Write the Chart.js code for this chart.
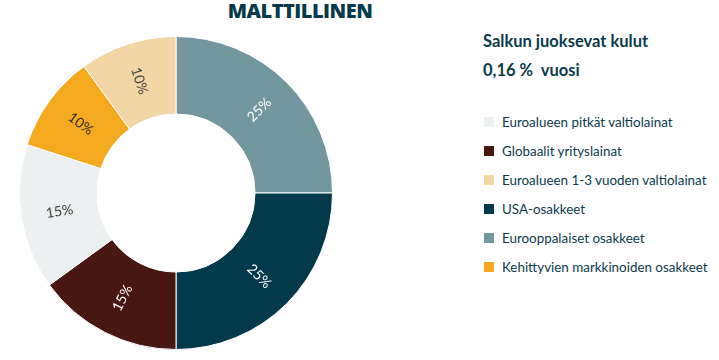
<!DOCTYPE html>
<html>
<head>
<meta charset="utf-8">
<script src="https://cdn.jsdelivr.net/npm/chart.js@4"></script>
<style>
  html, body { margin: 0; padding: 0; background: #fff; }
  body { width: 719px; height: 360px; position: relative; overflow: hidden; font-family: Lato, "Open Sans", sans-serif; color: #0b3a4b; }
  #title { position: absolute; left: 176px; top: -3px; width: 248px; text-align: center; font-family: "Open Sans", sans-serif; font-weight: 800; font-size: 20px; letter-spacing: -0.5px; color: #063a4b; }
  #chart-wrap { position: absolute; left: 19px; top: 36px; width: 314px; height: 314px; }
  #costs { position: absolute; left: 483px; top: 27px; font-weight: 700; font-size: 16.5px; line-height: 29px; }
  #legend { position: absolute; left: 484px; top: 107px; font-size: 13.4px; }
  .legend-item { height: 29px; display: flex; align-items: center; }
  .legend-box { width: 10px; height: 10px; margin-right: 8px; }
</style>
</head>
<body>
<div id="title">MALTTILLINEN</div>
<div id="chart-wrap"><canvas id="allocationChart"></canvas></div>
<div id="costs">
  <div>Salkun juoksevat kulut</div>
  <div>0,16 %&nbsp; vuosi</div>
</div>
<div id="legend"></div>

<script>
// Data (clockwise from 12 o'clock)
const categories = [
    'Eurooppalaiset osakkeet',
    'USA-osakkeet',
    'Globaalit yrityslainat',
    'Euroalueen pitkät valtiolainat',
    'Kehittyvien markkinoiden osakkeet',
    'Euroalueen 1-3 vuoden valtiolainat'
];
const shares = [25, 25, 15, 15, 10, 10];
const colors = ['#73979f', '#023a4c', '#481712', '#ecf0f1', '#f4a91e', '#f3d6a5'];
const labelColors = ['#ffffff', '#ffffff', '#ffffff', '#404040', '#303030', '#404040'];

// Legend order as shown on the right
const legendOrder = [
    'Euroalueen pitkät valtiolainat',
    'Globaalit yrityslainat',
    'Euroalueen 1-3 vuoden valtiolainat',
    'USA-osakkeet',
    'Eurooppalaiset osakkeet',
    'Kehittyvien markkinoiden osakkeet'
];

// Build legend
const legendEl = document.getElementById('legend');
let html = '';
legendOrder.forEach(name => {
    const i = categories.indexOf(name);
    html += `<div class="legend-item"><span class="legend-box" style="background:${colors[i]}"></span>${name}</div>`;
});
legendEl.innerHTML = html;

// Percent labels rotated along the radius
const sliceLabels = {
    id: 'sliceLabels',
    afterDatasetsDraw(chart) {
        const ctx = chart.ctx;
        const meta = chart.getDatasetMeta(0);
        ctx.save();
        ctx.font = '14px Lato, sans-serif';
        ctx.textAlign = 'center';
        ctx.textBaseline = 'middle';
        meta.data.forEach((arc, i) => {
            const p = arc.getProps(['x', 'y', 'startAngle', 'endAngle', 'innerRadius', 'outerRadius'], true);
            const a = (p.startAngle + p.endAngle) / 2;
            const r = (p.innerRadius + p.outerRadius) / 2;
            let rot = a;
            if (Math.cos(rot) < 0) rot += Math.PI;
            ctx.save();
            ctx.translate(p.x + r * Math.cos(a), p.y + r * Math.sin(a));
            ctx.rotate(rot);
            ctx.fillStyle = labelColors[i];
            ctx.fillText(shares[i] + '%', 0, 0);
            ctx.restore();
        });
        ctx.restore();
    }
};

new Chart(document.getElementById('allocationChart'), {
    type: 'doughnut',
    data: {
        labels: categories,
        datasets: [{
            data: shares,
            backgroundColor: colors,
            borderColor: '#ffffff',
            borderWidth: 1
        }]
    },
    options: {
        responsive: true,
        maintainAspectRatio: false,
        animation: false,
        cutout: '50.5%',
        layout: { padding: 0 },
        plugins: {
            legend: { display: false },
            tooltip: { enabled: false }
        }
    },
    plugins: [sliceLabels]
});
</script>
</body>
</html>
